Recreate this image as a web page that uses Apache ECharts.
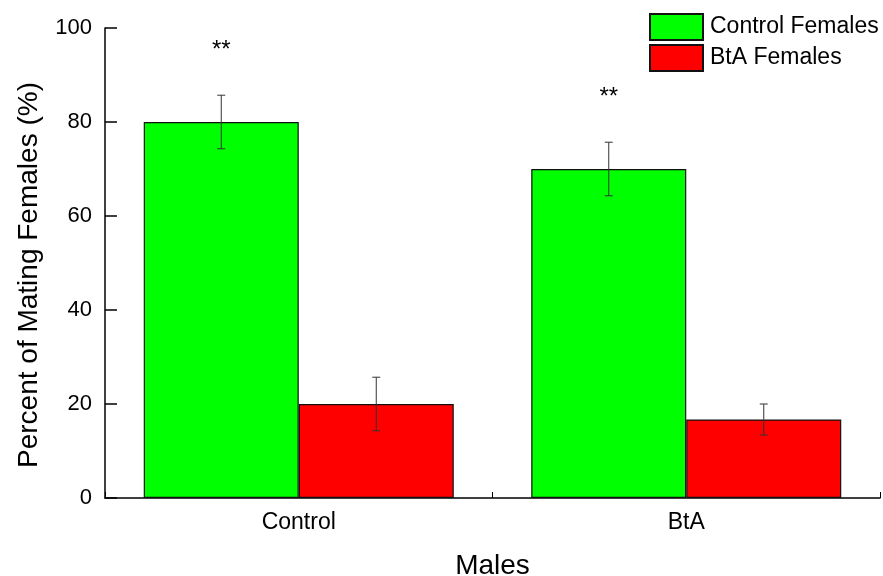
<!DOCTYPE html>
<html>
<head>
<meta charset="utf-8">
<script src="https://cdn.jsdelivr.net/npm/echarts@6/dist/echarts.min.js"></script>
<style>html,body{margin:0;padding:0;background:#fff;}#c{width:883px;height:576px;}</style>
</head>
<body>
<div id="c"></div>
<script>
var categories = ['Control', 'BtA'];
var seriesNames = ['Control Females', 'BtA Females'];
var controlFemales = [80, 70];
var controlFemalesErr = [5.7, 5.7];
var btaFemales = [20, 16.7];
var btaFemalesErr = [5.7, 3.3];
var sigLabels = ['**', '**'];
var yTicks = [0, 20, 40, 60, 80, 100];

var chart = echarts.init(document.getElementById('c'));
var font = 'Liberation Sans, Arial, sans-serif';

function errSeries(vals, errs, side, sig) {
  return {
    type: 'custom',
    silent: true,
    z: 10,
    data: categories.map(function (c, i) { return [i, vals[i], errs[i]]; }),
    renderItem: function (params, api) {
      var idx = api.value(0);
      var v = api.value(1), e = api.value(2);
      var band = api.size([1, 0])[0];
      var base = api.coord([idx, v]);
      var x = base[0] + side * 0.2 * band;
      var top = api.coord([idx, v + e])[1];
      var bot = api.coord([idx, v - e])[1];
      var cap = 4;
      var style = { stroke: '#333', lineWidth: 1 };
      var children = [
        { type: 'line', shape: { x1: x, y1: top, x2: x, y2: bot }, style: style },
        { type: 'line', shape: { x1: x - cap, y1: top, x2: x + cap, y2: top }, style: style },
        { type: 'line', shape: { x1: x - cap, y1: bot, x2: x + cap, y2: bot }, style: style }
      ];
      var s = sig ? sig[params.dataIndex] : '';
      if (s) {
        children.push({ type: 'text', style: { text: s, x: x, y: base[1] - 72, align: 'center', verticalAlign: 'middle', font: '24px ' + font, fill: '#000' } });
      }
      return { type: 'group', children: children };
    }
  };
}

chart.setOption({
  animation: false,
  backgroundColor: '#fff',
  grid: { left: 105, right: 3, top: 28, bottom: 78, outerBoundsMode: 'none', containLabel: false },
  legend: {
    orient: 'vertical', left: 649, top: 13, itemGap: 3, padding: 0,
    itemWidth: 53, itemHeight: 26, icon: 'rect',
    textStyle: { fontSize: 23, fontFamily: font, color: '#000', padding: [0, 0, 0, 2] },
    data: seriesNames
  },
  xAxis: {
    type: 'category', data: categories,
    name: 'Males', nameLocation: 'middle', nameGap: 54,
    nameTextStyle: { fontSize: 28, fontFamily: font, color: '#000' },
    axisLine: { lineStyle: { color: '#000', width: 1.5 } },
    axisTick: { show: true, inside: true, length: 6, lineStyle: { color: '#000' } },
    axisLabel: { fontSize: 23, fontFamily: font, color: '#000', margin: 13, interval: 0 }
  },
  yAxis: {
    type: 'value', min: yTicks[0], max: yTicks[yTicks.length - 1], interval: 20,
    name: 'Percent of Mating Females (%)', nameLocation: 'middle', nameGap: 62,
    nameTextStyle: { fontSize: 28, fontFamily: font, color: '#000', padding: [0, 24, 0, 0] },
    axisLine: { show: true, lineStyle: { color: '#000', width: 1.5 } },
    axisTick: { show: true, inside: true, length: 12, lineStyle: { color: '#000', width: 1.5 } },
    axisLabel: { fontSize: 22, fontFamily: font, color: '#000', margin: 13 },
    splitLine: { show: false }
  },
  series: [
    { name: seriesNames[0], type: 'bar', data: controlFemales, barGap: '0%', barCategoryGap: '20%',
      itemStyle: { color: '#00ff00', borderColor: '#111', borderWidth: 1.2 } },
    { name: seriesNames[1], type: 'bar', data: btaFemales, barGap: '0%', barCategoryGap: '20%',
      itemStyle: { color: '#ff0000', borderColor: '#111', borderWidth: 1.2 } },
    errSeries(controlFemales, controlFemalesErr, -1, sigLabels),
    errSeries(btaFemales, btaFemalesErr, 1, null)
  ]
});
</script>
</body>
</html>
